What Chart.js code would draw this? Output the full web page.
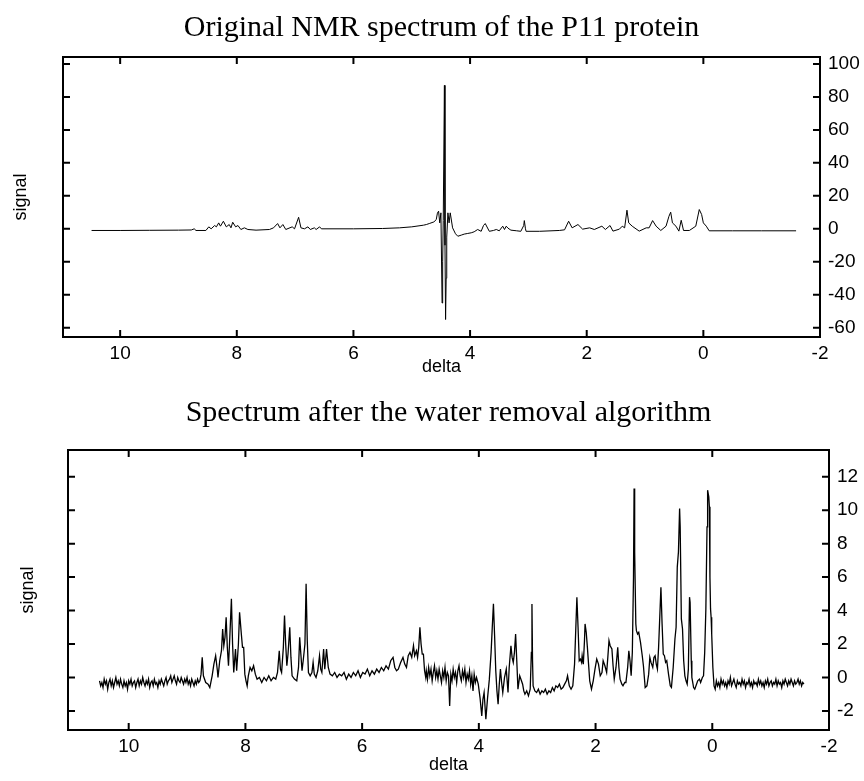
<!DOCTYPE html>
<html>
<head>
<meta charset="utf-8">
<script src="https://cdn.jsdelivr.net/npm/chart.js@4"></script>
<style>
  body { margin: 0; background: #fff; }
  .panel { position: absolute; left: 0; }
  #topPanel { top: 0; }
  #bottomPanel { top: 380px; }
</style>
</head>
<body>
<div class="panel" id="topPanel"><canvas id="rawChart" width="864" height="380"></canvas></div>
<div class="panel" id="bottomPanel"><canvas id="cleanChart" width="864" height="401"></canvas></div>
<script>
// Original spectrum
const rawDelta = [
  10.49, 10.0, 9.5, 9.0, 8.78, 8.73, 8.70, 8.53, 8.48, 8.44,
  8.38, 8.35, 8.31, 8.28, 8.23, 8.18, 8.13, 8.10, 8.07, 8.02,
  7.98, 7.93, 7.87, 7.81, 7.67, 7.44, 7.37, 7.30, 7.26, 7.21,
  7.16, 7.05, 7.01, 6.94, 6.90, 6.84, 6.78, 6.74, 6.67, 6.64,
  6.58, 6.55, 6.0, 5.5, 5.21, 5.0, 4.80, 4.75, 4.70, 4.62,
  4.58, 4.56, 4.54, 4.52, 4.50, 4.48, 4.47, 4.46, 4.44, 4.43,
  4.42, 4.41, 4.40, 4.38, 4.36, 4.34, 4.30, 4.25, 4.21, 4.15,
  4.10, 4.04, 3.98, 3.93, 3.87, 3.81, 3.77, 3.74, 3.70, 3.67,
  3.60, 3.55, 3.50, 3.44, 3.41, 3.38, 3.35, 3.30, 3.20, 3.13,
  3.08, 3.07, 3.05, 3.04, 2.81, 2.47, 2.38, 2.31, 2.25, 2.15,
  2.07, 1.95, 1.87, 1.74, 1.68, 1.60, 1.55, 1.44, 1.39, 1.35,
  1.31, 1.28, 1.22, 1.10, 0.98, 0.93, 0.87, 0.81, 0.73, 0.64,
  0.59, 0.56, 0.53, 0.47, 0.42, 0.38, 0.34, 0.24, 0.13, 0.07,
  0.03, 0.00, -0.05, -0.10, -0.5, -1.0, -1.59
];
const rawSignal = [
  -1.0, -1.0, -0.9, -0.8, -0.7, 0.0, -1.0, -1.0, 1.2, 0.0,
  2.0, 1.2, 3.6, 1.6, 4.6, 1.2, 2.6, 0.6, 4.0, 1.2,
  2.0, -0.4, 0.6, -0.4, -0.8, -0.4, 0.6, 3.2, 0.6, 2.6,
  -0.4, 1.2, 0.0, 7.0, 0.6, 0.0, 1.2, -0.4, 0.6, -0.4,
  1.2, 0.0, 0.0, 0.2, 0.6, 1.2, 2.2, 2.6, 3.2, 4.2,
  5.6, 9.5, 10.7, 3.6, 9.7, -45, -20, 5, 87, -10,
  -55, -30, -5, 9.7, 3.6, 9.7, 0.6, -3.0, -4.5, -3.8,
  -3.2, -2.8, -2.4, -1.8, -0.4, -1.5, 2.0, 3.2, 0.5, -1.5,
  -1.0, -0.4, -1.2, 1.6, -0.4, 1.6, 0.4, -0.8, -1.2, -1.5,
  2.0, 5.0, 0.0, -1.5, -1.5, -1.0, -0.6, 4.6, 0.6, 2.6,
  -0.2, 0.6, -0.4, 1.6, -0.4, 2.0, -1.4, -0.2, 1.6, 0.6,
  11.3, 3.6, 1.6, -1.4, 0.6, 0.6, 5.0, 1.6, -1.0, 1.6,
  7.6, 10.1, 3.6, 1.6, -1.4, 5.2, -1.0, -1.0, 1.6, 11.7,
  8.7, 3.6, 1.6, -1.2, -1.2, -1.2, -1.2
];
const rawTicks = [-60, -40, -20, 0, 20, 40, 60, 80, 100];

// Spectrum after water removal (bottom panel)
const cleanDelta = [
  10.50, 10.48, 10.46, 10.44, 10.42, 10.40, 10.38, 10.36, 10.34, 10.32,
  10.30, 10.28, 10.26, 10.24, 10.22, 10.20, 10.18, 10.16, 10.14, 10.12,
  10.10, 10.08, 10.06, 10.04, 10.02, 10.00, 9.98, 9.96, 9.94, 9.92,
  9.90, 9.88, 9.86, 9.84, 9.82, 9.80, 9.78, 9.76, 9.74, 9.72,
  9.70, 9.68, 9.66, 9.64, 9.62, 9.60, 9.58, 9.56, 9.54, 9.52,
  9.50, 9.48, 9.46, 9.44, 9.42, 9.40, 9.38, 9.36, 9.34, 9.32,
  9.30, 9.28, 9.26, 9.24, 9.22, 9.20, 9.18, 9.16, 9.14, 9.12,
  9.10, 9.08, 9.06, 9.04, 9.02, 9.00, 8.98, 8.96, 8.94, 8.92,
  8.90, 8.88, 8.86, 8.84, 8.82, 8.80,
  8.78, 8.76, 8.74, 8.72, 8.68, 8.64, 8.61,
  8.57, 8.54, 8.51, 8.48, 8.47, 8.44, 8.41, 8.39, 8.37, 8.35,
  8.33, 8.31, 8.29, 8.27, 8.24, 8.22, 8.20, 8.17, 8.15, 8.12,
  8.10, 8.07, 8.05, 8.03, 8.01, 7.99, 7.97, 7.95, 7.92, 7.89,
  7.86, 7.83, 7.80, 7.76, 7.72, 7.68, 7.64, 7.60, 7.56, 7.52,
  7.48, 7.45, 7.42, 7.40, 7.38, 7.35, 7.33, 7.31, 7.29, 7.27,
  7.24, 7.22, 7.20, 7.16, 7.12, 7.09, 7.07, 7.05, 7.03, 7.01,
  6.98, 6.96, 6.94, 6.92, 6.89, 6.86, 6.84, 6.82, 6.79, 6.76,
  6.73, 6.71, 6.69, 6.66, 6.64, 6.61, 6.58, 6.55, 6.51, 6.47,
  6.43, 6.39, 6.35, 6.31, 6.27, 6.23, 6.19, 6.15, 6.11, 6.07,
  6.03, 5.99, 5.95, 5.91, 5.87, 5.83, 5.79, 5.75, 5.71, 5.67,
  5.63, 5.59, 5.55, 5.51, 5.47, 5.44, 5.41, 5.38, 5.34, 5.30,
  5.27, 5.24, 5.21, 5.18, 5.15, 5.12, 5.10, 5.07, 5.05, 5.03,
  5.01, 4.99, 4.97, 4.95, 4.93, 4.91,
  4.90, 4.88, 4.86, 4.84, 4.82, 4.80, 4.78, 4.76, 4.74, 4.72,
  4.70, 4.68, 4.66, 4.64, 4.62, 4.60, 4.58, 4.56, 4.54, 4.52,
  4.50, 4.48, 4.46, 4.44, 4.42, 4.40, 4.38, 4.36, 4.34, 4.32,
  4.30, 4.28, 4.26, 4.24, 4.22, 4.20, 4.18, 4.16, 4.14, 4.12,
  4.10, 4.08, 4.06, 4.04,
  4.01, 3.98, 3.95, 3.93,
  3.91, 3.88, 3.85, 3.82, 3.79, 3.77, 3.75, 3.73, 3.71, 3.69,
  3.67, 3.65, 3.63, 3.61, 3.59, 3.56, 3.53, 3.50, 3.48, 3.45,
  3.43, 3.41, 3.39, 3.37, 3.35, 3.33, 3.30, 3.27, 3.25, 3.23,
  3.21, 3.18, 3.15, 3.12, 3.10, 3.09, 3.08, 3.07, 3.04, 3.01,
  2.98, 2.95, 2.92, 2.89, 2.86, 2.83, 2.80, 2.77, 2.74, 2.71,
  2.68, 2.65, 2.62, 2.59, 2.56, 2.53, 2.50, 2.48, 2.45, 2.42,
  2.39, 2.36, 2.34, 2.32, 2.30, 2.28, 2.26, 2.24, 2.23, 2.21,
  2.19, 2.18, 2.16, 2.14, 2.12, 2.10, 2.07, 2.04, 2.01, 1.98,
  1.95, 1.92, 1.89, 1.87, 1.84, 1.81, 1.79, 1.77, 1.75, 1.72,
  1.70, 1.68, 1.65, 1.62, 1.60, 1.58, 1.55, 1.53, 1.50, 1.48,
  1.45, 1.43, 1.41, 1.39, 1.37, 1.35, 1.34, 1.33, 1.31, 1.30,
  1.28, 1.26, 1.23, 1.20, 1.18, 1.15, 1.12, 1.09, 1.07, 1.05,
  1.02, 1.00, 0.98, 0.96, 0.94, 0.92, 0.90, 0.88, 0.86, 0.84,
  0.82, 0.80, 0.78, 0.75, 0.72, 0.70, 0.67, 0.64, 0.62, 0.60,
  0.58, 0.56, 0.55, 0.53, 0.51, 0.49, 0.47, 0.45, 0.43, 0.41,
  0.39, 0.38, 0.36, 0.35, 0.32, 0.30, 0.27, 0.25, 0.22, 0.20,
  0.17, 0.15, 0.13, 0.11, 0.09, 0.08, 0.06, 0.05, 0.04, 0.03,
  0.02, 0.01, -0.01, -0.03, -0.05,
  -0.07, -0.09, -0.11, -0.13, -0.15, -0.17, -0.19, -0.21, -0.23, -0.25,
  -0.27, -0.29, -0.31, -0.33, -0.35, -0.37, -0.39, -0.41, -0.43, -0.45,
  -0.47, -0.49, -0.51, -0.53, -0.55, -0.57, -0.59, -0.61, -0.63, -0.65,
  -0.67, -0.69, -0.71, -0.73, -0.75, -0.77, -0.79, -0.81, -0.83, -0.85,
  -0.87, -0.89, -0.91, -0.93, -0.95, -0.97, -0.99, -1.01, -1.03, -1.05,
  -1.07, -1.09, -1.11, -1.13, -1.15, -1.17, -1.19, -1.21, -1.23, -1.25,
  -1.27, -1.29, -1.31, -1.33, -1.35, -1.37, -1.39, -1.41, -1.43, -1.45,
  -1.47, -1.49, -1.51, -1.53, -1.55, -1.57
];
const cleanSignal = [
  -0.2, -0.5, -0.3, -0.6, -0.1, -0.4, -0.2, -0.7, -0.3, -0.1,
  -0.5, -0.2, -0.6, -0.3, 0.0, -0.4, -0.2, -0.5, -0.1, -0.4,
  -0.6, -0.2, -0.5, -0.3, -0.7, -0.2, -0.4, -0.1, -0.5, -0.3,
  -0.2, -0.6, -0.3, -0.1, -0.5, -0.2, -0.4, 0.0, -0.3, -0.5,
  -0.2, -0.4, -0.1, -0.6, -0.3, -0.2, -0.5, -0.1, -0.4, -0.3,
  -0.6, -0.2, -0.4, -0.1, -0.3, -0.5, -0.2, 0.0, -0.4, -0.2,
  -0.1, 0.1, -0.3, -0.1, 0.1, -0.2, -0.4, 0.0, -0.2, -0.3,
  0.0, -0.2, -0.4, -0.1, -0.3, 0.0, -0.4, -0.2, -0.5, -0.1,
  -0.3, -0.5, -0.2, -0.4, -0.1, -0.3,
  -0.2, 0.2, 1.2, 0.1, -0.3, -0.4, -0.6,
  0.1, 0.8, 1.3, 0.4, 0.0, 1.0, 1.6, 2.9, 1.9, 2.4,
  3.6, 1.8, 0.7, 2.2, 4.7, 2.0, 0.3, 1.7, 0.4, 2.0,
  3.9, 2.6, 1.8, 1.8, 0.2, -0.2, -0.5, 0.1, 0.6, 0.4,
  0.7, 0.2, -0.1, 0.0, -0.3, 0.0, -0.2, 0.1, -0.2, 0.0,
  -0.1, 0.3, 1.6, 0.5, 0.3, 1.8, 3.7, 2.0, 0.7, 1.4,
  3.0, 1.2, 0.1, -0.1, -0.2, 0.6, 2.4, 1.4, 0.4, 1.0,
  2.0, 5.6, 2.2, 0.3, 0.1, 0.3, 0.9, 0.2, 0.0, 0.4,
  1.3, 0.5, 0.3, 1.7, 0.5, 1.7, 0.6, 0.2, 0.1, 0.3,
  0.0, 0.2, 0.1, 0.3, -0.1, 0.2, 0.0, 0.3, 0.1, 0.4,
  0.0, 0.3, 0.2, 0.5, 0.1, 0.4, 0.2, 0.5, 0.3, 0.6,
  0.4, 0.7, 0.5, 1.0, 1.2, 0.6, 0.4, 0.5, 0.9, 1.2,
  0.8, 0.6, 1.3, 1.5, 1.2, 1.9, 1.3, 1.6, 1.2, 1.8,
  3.0, 2.0, 1.4, 1.4, 0.4, 0.0,
  0.4, -0.1, 0.6, 0.1, 0.5, -0.2, 0.3, 0.7, 0.0, 0.4,
  -0.1, 0.5, 0.1, -0.3, 0.4, 0.0, 0.6, -0.2, 0.3, 0.1,
  -1.7, 0.2, -0.2, 0.5, 0.0, 0.3, -0.3, 0.4, 0.7, 0.1,
  -0.2, 0.4, 0.0, 0.5, -0.3, 0.2, -0.1, 0.4, -0.4, 0.1,
  -0.8, 0.2, -0.3, 0.0,
  -0.4, -1.2, -2.3, -1.3,
  -0.9, -2.5, -1.2, -0.1, 1.5, 3.0, 4.4, 2.5, 0.4, -0.8,
  -1.6, -0.4, 0.5, -0.3, -0.9, 0.0, 0.5, -0.9, 0.6, 1.9,
  1.2, 0.9, 1.5, 2.6, 1.0, -0.7, 0.1, -0.2, -0.4, -0.8,
  -1.0, -0.8, -1.1, -0.7, 1.5, 4.4, 1.0, -0.5, -0.8, -0.9,
  -0.7, -1.0, -0.8, -0.9, -0.7, -1.0, -0.8, -0.9, -0.6, -0.8,
  -0.5, -0.6, -0.4, -0.7, -0.6, -0.4, -0.2, 0.1, -0.5, -0.7,
  -0.5, 0.8, 2.8, 4.8, 3.0, 1.0, 1.1, 0.9, 1.3, 0.8,
  2.2, 3.2, 2.7, 1.8, 0.8, -0.2, -0.7, -0.2, 0.5, 1.1,
  0.8, 0.1, 0.3, 1.0, 0.7, 0.3, 1.2, 2.2, 1.9, 1.7,
  0.7, -0.1, 0.6, 1.8, 0.6, -0.1, -0.4, -0.5, -0.3, -0.3,
  0.6, 1.6, 1.0, 0.1, 1.5, 6.0, 11.3, 7.5, 3.2, 2.8,
  2.6, 2.7, 2.1, 1.3, 0.7, -0.6, -0.5, 0.2, 1.2, 0.9,
  0.6, 1.2, 1.3, 0.8, 0.5, 1.8, 3.6, 5.4, 3.2, 1.4,
  1.3, 0.9, 1.0, 0.2, -0.5, -0.6, 0.6, 2.3, 3.0, 6.6,
  7.5, 10.1, 9.0, 3.5, 2.9, 1.0, 0.1, -0.2, -0.4, 0.5,
  4.8, 4.5, 1.0, 0.0, -0.6, -0.7, -0.4, -0.2, -0.1, -0.3,
  0.0, 0.1, 1.5, 4.1, 9.0, 11.2, 10.8, 10.2, 6.0, 4.1,
  3.6, 2.6, 0.6, -0.5, -0.7,
  -0.2, -0.5, -0.3, -0.6, -0.1, -0.4, -0.2, -0.5, -0.3, -0.6,
  -0.2, -0.4, 0.0, -0.5, -0.3, -0.1, -0.4, -0.6, -0.2, -0.4,
  -0.3, -0.5, -0.1, -0.4, -0.2, -0.6, -0.3, -0.4, -0.1, -0.5,
  -0.3, -0.6, -0.2, -0.4, -0.3, -0.5, -0.1, -0.4, -0.2, -0.5,
  -0.3, -0.6, -0.2, -0.4, -0.1, -0.5, -0.3, -0.2, -0.5, -0.3,
  -0.4, -0.1, -0.5, -0.2, -0.4, -0.3, -0.6, -0.2, -0.4, -0.1,
  -0.3, -0.5, -0.2, -0.4, -0.1, -0.3, -0.5, -0.2, -0.4, -0.3,
  -0.1, -0.4, -0.2, -0.5, -0.3, -0.4
];
const cleanTicks = [-2, 0, 2, 4, 6, 8, 10, 12];
const deltaTicks = [-2, 0, 2, 4, 6, 8, 10];

if (rawDelta.length !== rawSignal.length || cleanDelta.length !== cleanSignal.length) {
    console.warn("Delta / signal arrays are not the same length!", cleanDelta.length, cleanSignal.length);
}

Chart.defaults.color = "#000";
Chart.defaults.font.family = "'Liberation Sans', Arial, sans-serif";
Chart.defaults.font.size = 18;

// Draw the framed box with tick marks pointing inward on all four sides
const boxTicks = {
    id: "boxTicks",
    afterDraw(chart) {
        const { ctx, chartArea: a, scales } = chart;
        const len = 7;
        ctx.save();
        ctx.strokeStyle = "#000";
        ctx.lineWidth = 2;
        ctx.strokeRect(a.left, a.top, a.right - a.left, a.bottom - a.top);
        ctx.beginPath();
        scales.x.ticks.forEach(t => {
            const px = scales.x.getPixelForValue(t.value);
            ctx.moveTo(px, a.bottom); ctx.lineTo(px, a.bottom - len);
            ctx.moveTo(px, a.top); ctx.lineTo(px, a.top + len);
        });
        scales.y.ticks.forEach(t => {
            const py = scales.y.getPixelForValue(t.value);
            ctx.moveTo(a.left, py); ctx.lineTo(a.left + len, py);
            ctx.moveTo(a.right, py); ctx.lineTo(a.right - len, py);
        });
        ctx.stroke();
        ctx.restore();
    }
};

function makeSpectrum(canvasId, cfg) {
    const points = cfg.delta.map((d, i) => ({ x: d, y: cfg.signal[i] }));
    return new Chart(document.getElementById(canvasId), {
        type: "line",
        data: {
            datasets: [{
                data: points,
                borderColor: "#000",
                borderWidth: cfg.lineWidth,
                pointRadius: 0,
                tension: 0
            }]
        },
        options: {
            responsive: false,
            animation: false,
            events: [],
            layout: { padding: 0 },
            plugins: {
                legend: { display: false },
                tooltip: { enabled: false },
                title: {
                    display: true,
                    fullSize: false,
                    text: cfg.title,
                    color: "#000",
                    font: { family: "'Liberation Serif', 'Times New Roman', serif", size: 30, weight: "normal" },
                    padding: cfg.titlePadding
                }
            },
            scales: {
                x: {
                    type: "linear",
                    position: "bottom",
                    reverse: true,
                    min: -2,
                    max: cfg.xMax,
                    afterBuildTicks: s => { s.ticks = deltaTicks.map(v => ({ value: v })); },
                    ticks: { padding: 5, maxRotation: 0, autoSkip: false, font: { size: 19 } },
                    grid: { display: false, drawTicks: false },
                    border: { display: false },
                    title: { display: true, text: "delta", padding: { top: 0, bottom: cfg.deltaPad } },
                    afterFit: s => { s.height = cfg.xHeight; }
                },
                y: {
                    type: "linear",
                    position: "right",
                    min: cfg.yMin,
                    max: cfg.yMax,
                    afterBuildTicks: s => { s.ticks = cfg.yTicks.map(v => ({ value: v })); },
                    ticks: { padding: 8, autoSkip: false, font: { size: 19 } },
                    grid: { display: false, drawTicks: false },
                    border: { display: false },
                    afterFit: s => { s.width = cfg.rightWidth; }
                },
                yLabel: {
                    type: "linear",
                    position: "left",
                    min: cfg.yMin,
                    max: cfg.yMax,
                    ticks: { display: false },
                    grid: { display: false, drawTicks: false },
                    border: { display: false },
                    title: { display: true, text: "signal", padding: { top: cfg.signalPad, bottom: 0 } },
                    afterFit: s => { s.width = cfg.leftWidth; }
                }
            }
        },
        plugins: [boxTicks]
    });
}

makeSpectrum("rawChart", {
    delta: rawDelta,
    signal: rawSignal,
    title: "Original NMR spectrum of the P11 protein",
    titlePadding: { top: 10, bottom: 11 },
    xMax: 10.98,
    yMin: -65.6,
    yMax: 104.2,
    yTicks: rawTicks,
    xHeight: 43,
    deltaPad: 2,
    rightWidth: 44,
    leftWidth: 63,
    signalPad: 10,
    lineWidth: 1
});

makeSpectrum("cleanChart", {
    delta: cleanDelta,
    signal: cleanSignal,
    title: "Spectrum after the water removal algorithm",
    titlePadding: { top: 15, bottom: 19 },
    xMax: 11.04,
    yMin: -3.14,
    yMax: 13.6,
    yTicks: cleanTicks,
    xHeight: 51,
    deltaPad: 5,
    rightWidth: 35,
    leftWidth: 68,
    signalPad: 17,
    lineWidth: 1.3
});
</script>
</body>
</html>
